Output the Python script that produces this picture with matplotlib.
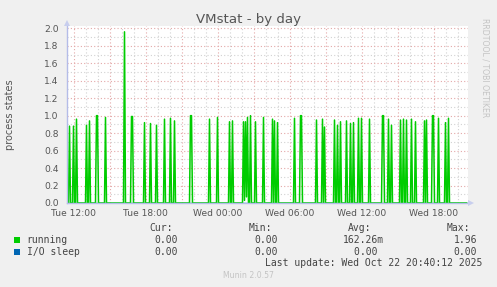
import numpy as np
import matplotlib
matplotlib.use("Agg")
import matplotlib.pyplot as plt
from matplotlib.patches import Rectangle, Polygon

# ---------------- data ----------------
title = "VMstat - by day"
ylabel = "process states"
x_tick_labels = ["Tue 12:00", "Tue 18:00", "Wed 00:00", "Wed 06:00", "Wed 12:00", "Wed 18:00"]
y_ticks = [0.0, 0.2, 0.4, 0.6, 0.8, 1.0, 1.2, 1.4, 1.6, 1.8, 2.0]

spike_times = ["Tue 11:40", "Tue 12:00", "Tue 12:15", "Tue 13:05", "Tue 13:20", "Tue 13:55",
               "Tue 14:00", "Tue 14:40", "Tue 16:15", "Tue 16:50", "Tue 16:55", "Tue 17:55",
               "Tue 18:25", "Tue 18:55", "Tue 19:35", "Tue 20:05", "Tue 20:25", "Tue 21:45",
               "Tue 21:50", "Tue 23:20", "Wed 00:00", "Wed 01:00", "Wed 01:15", "Wed 02:10",
               "Wed 02:15", "Wed 02:20", "Wed 02:25", "Wed 02:30", "Wed 02:45", "Wed 03:10",
               "Wed 03:50", "Wed 04:35", "Wed 04:45", "Wed 05:00", "Wed 06:25", "Wed 06:55",
               "Wed 07:00", "Wed 08:15", "Wed 08:45", "Wed 08:55", "Wed 09:45", "Wed 10:00",
               "Wed 10:15", "Wed 10:45", "Wed 11:05", "Wed 11:20", "Wed 11:45", "Wed 12:00",
               "Wed 12:40", "Wed 13:45", "Wed 13:50", "Wed 14:15", "Wed 14:30", "Wed 15:15",
               "Wed 15:30", "Wed 15:45", "Wed 16:10", "Wed 16:30", "Wed 17:15", "Wed 17:25",
               "Wed 17:55", "Wed 18:00", "Wed 18:25", "Wed 19:00", "Wed 19:15"]
running_values = [0.88, 0.88, 0.96, 0.89, 0.94, 1.00, 1.00, 0.98, 1.96, 0.99, 0.99, 0.92,
                  0.91, 0.89, 0.96, 0.97, 0.94, 1.00, 1.00, 0.96, 0.98, 0.93, 0.94, 0.93,
                  0.03, 0.93, 0.07, 0.98, 1.00, 0.93, 0.98, 0.96, 0.94, 0.92, 0.97, 1.00,
                  1.00, 0.95, 0.96, 0.87, 0.95, 0.89, 0.93, 0.94, 0.91, 0.92, 0.97, 0.97,
                  0.96, 1.00, 1.00, 0.96, 0.89, 0.95, 0.96, 0.95, 0.96, 0.93, 0.94, 0.95,
                  1.00, 1.00, 0.97, 0.92, 0.97]
series_names = ["running", "I/O sleep"]
series_colors = ["#00cc00", "#0066b3"]
cur_vals = ["0.00", "0.00"]
min_vals = ["0.00", "0.00"]
avg_vals = ["162.26m", "0.00"]
max_vals = ["1.96", "0.00"]
last_update = "Last update: Wed Oct 22 20:40:12 2025"
version = "Munin 2.0.57"
start_time = "Tue 11:25"
end_time = "Wed 20:45"

# ---------------- helpers ----------------
def to_minutes(s):
    day, hm = s.split()
    h, m = hm.split(":")
    return {"Tue": 0, "Wed": 1440}[day] + int(h) * 60 + int(m)

t_min = np.arange(to_minutes(start_time), to_minutes(end_time) + 1, 5)
running = np.zeros(len(t_min))
for s, v in zip(spike_times, running_values):
    running[np.searchsorted(t_min, to_minutes(s))] = v
io_sleep = np.zeros(len(t_min))
hours = t_min / 60.0

W, H = 497, 287
fig = plt.figure(figsize=(W / 100, H / 100), dpi=100)
fig.patch.set_facecolor("#f0f0f0")

def fx(x):
    return x / W

def fy(y):
    return 1 - y / H

ax_l, ax_r, ax_t, ax_b = 67, 467.5, 26, 203
ax = fig.add_axes([fx(ax_l), fy(ax_b), (ax_r - ax_l) / W, (ax_b - ax_t) / H])
ax.set_facecolor("white")
x0 = 12 - 6.5 / 12
x1 = x0 + (ax_r - ax_l) / 12
ax.set_xlim(x0, x1)
ax.set_ylim(0, 2.0 * (ax_b - ax_t) / (ax_b - 28.3))

# grid
for h in range(12, 45):
    major = (h % 3 == 0)
    ax.axvline(h, color="#e4a8a8" if major else "#d2d2d2", lw=0.8,
               ls=(0, (1, 2)), zorder=1)
for k in range(0, 21):
    yv = k / 10
    major = (k % 2 == 0)
    ax.axhline(yv, color="#e4a8a8" if major else "#d2d2d2", lw=0.8,
               ls=(0, (1, 2)), zorder=1)

ax.plot(hours, io_sleep, color=series_colors[1], lw=1.0, zorder=3)
ax.plot(hours, running, color=series_colors[0], lw=1.1, zorder=4)

for sp in ["top", "right"]:
    ax.spines[sp].set_visible(False)
for sp in ["left", "bottom"]:
    ax.spines[sp].set_color("#b4bce8")
    ax.spines[sp].set_linewidth(1.0)
    ax.spines[sp].set_zorder(5)

ax.set_xticks([12, 18, 24, 30, 36, 42])
ax.set_xticklabels(x_tick_labels)
ax.set_yticks(y_ticks)
ax.set_yticklabels([f"{v:.1f}" for v in y_ticks])
ax.tick_params(axis="both", length=0, labelsize=6.6, colors="#555555", pad=4)
ax.tick_params(axis="y", pad=6)

# axis arrows
fig.add_artist(Polygon([[fx(64), fy(26)], [fx(70), fy(26)], [fx(67), fy(20)]],
                       closed=True, transform=fig.transFigure, color="#c8ceee", lw=0))
fig.add_artist(Polygon([[fx(468), fy(200)], [fx(468), fy(206)], [fx(474), fy(203)]],
                       closed=True, transform=fig.transFigure, color="#c8ceee", lw=0))

# title and labels
fig.text(fx(248), fy(20), title, ha="center", va="center", fontsize=9.6, color="#555555")
fig.text(fx(10), fy(115), ylabel, ha="center", va="center", rotation=90,
         fontsize=7, color="#555555")
fig.text(fx(485), fy(18), "RRDTOOL / TOBI OETIKER", ha="center", va="top", rotation=270,
         fontsize=5.6, color="#c4c4c4")

mono = "DejaVu Sans Mono"
fs = 7
tc = "#444444"
hy = 228
fig.text(fx(149), fy(hy), "Cur:", ha="left", va="center", family=mono, fontsize=fs, color=tc)
fig.text(fx(249), fy(hy), "Min:", ha="left", va="center", family=mono, fontsize=fs, color=tc)
fig.text(fx(348.3), fy(hy), "Avg:", ha="left", va="center", family=mono, fontsize=fs, color=tc)
fig.text(fx(446.7), fy(hy), "Max:", ha="left", va="center", family=mono, fontsize=fs, color=tc)

rows_y = [239.7, 251.7]
for i, name in enumerate(series_names):
    yy = rows_y[i]
    fig.add_artist(Rectangle((fx(14), fy(yy + 3)), 6 / W, 6 / H,
                             transform=fig.transFigure, color=series_colors[i], lw=0))
    fig.text(fx(26.7), fy(yy), name, ha="left", va="center", family=mono, fontsize=fs, color=tc)
    fig.text(fx(178), fy(yy), cur_vals[i], ha="right", va="center", family=mono, fontsize=fs, color=tc)
    fig.text(fx(278), fy(yy), min_vals[i], ha="right", va="center", family=mono, fontsize=fs, color=tc)
    avg_s = avg_vals[i] if avg_vals[i][-1].isalpha() else avg_vals[i] + " "
    fig.text(fx(383.5), fy(yy), avg_s, ha="right", va="center", family=mono, fontsize=fs, color=tc)
    fig.text(fx(477), fy(yy), max_vals[i], ha="right", va="center", family=mono, fontsize=fs, color=tc)

fig.text(fx(482.5), fy(263.3), last_update, ha="right", va="center", family=mono,
         fontsize=fs, color=tc)
fig.text(fx(248), fy(276), version, ha="center", va="center", fontsize=5.6, color="#c4c4c4")

fig.savefig("out.png", dpi=100, facecolor=fig.get_facecolor())
